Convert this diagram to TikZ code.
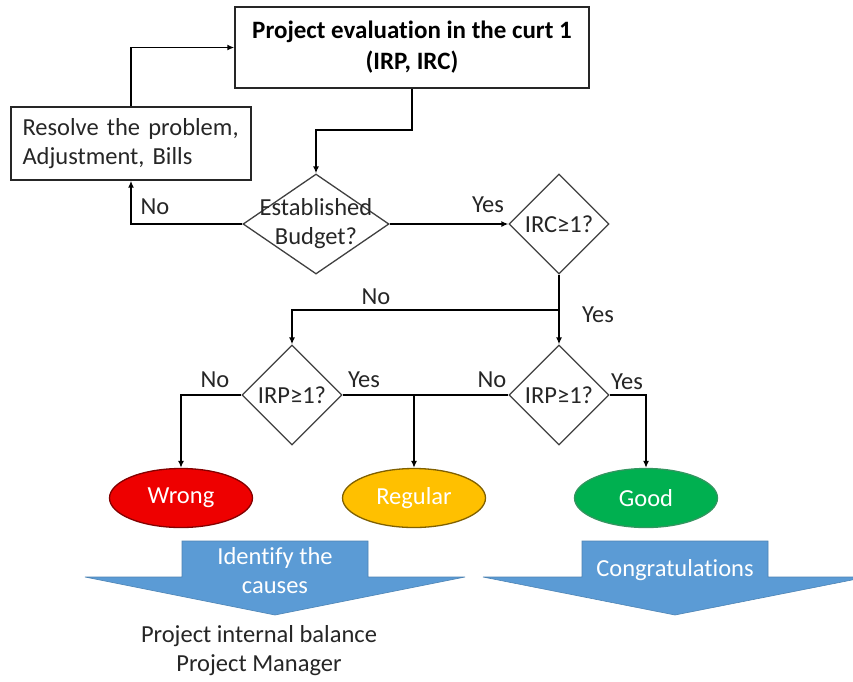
\documentclass[tikz,border=0pt]{standalone}
\usepackage{fontspec}
\setmainfont{Carlito}[Ligatures=NoCommon]
\usetikzlibrary{shapes.geometric,arrows.meta}
\definecolor{arrowblue}{HTML}{5B9BD5}
\definecolor{wrongred}{HTML}{EE0000}
\definecolor{regyellow}{HTML}{FFC000}
\definecolor{goodgreen}{HTML}{00B050}
\begin{document}
\begin{tikzpicture}[x=1pt,y=-1pt,
  fs/.style={font=\fontsize{24.5}{29}\selectfont},
  every node/.style={fs},
  box/.style={draw=black!85, line width=1.4pt, rectangle, inner sep=0pt},
  dec/.style={draw=black!75, line width=1.3pt, diamond, inner sep=0pt, minimum width=100pt, minimum height=100pt},
  dectext/.style={inner sep=0pt, align=center, text=black!85},
  oval/.style={ellipse, line width=1.3pt, minimum width=143pt, minimum height=59pt, inner sep=0pt, text=white},
  conn/.style={line width=1.8pt, -{Latex[length=7pt,width=6pt]}},
  plain/.style={line width=1.8pt},
  lbl/.style={inner sep=0pt, text=black!85},
  bluearrow/.style={fill=arrowblue, draw=arrowblue!85!black, line width=0.6pt},
  arrowtext/.style={inner sep=0pt, align=center, text=white},
]
\clip (0,0) rectangle (853,681);
\fill[white] (0,0) rectangle (853,681);

% boxes
\node[box, minimum width=354pt, minimum height=81pt, align=center,
      font=\fontsize{25}{31}\selectfont\bfseries] (top) at (412,47.5)
  {Project evaluation in the curt 1\\(IRP, IRC)};
\node[box, minimum width=240pt, minimum height=73pt, text width=217pt, align=left, text=black!85] (res) at (131,143.5)
  {Resolve the problem,\\Adjustment, Bills};

% decisions
\node[dec, minimum width=146pt] (d1) at (316,224) {};
\node[dectext] (d1t) at (d1) {Established\\Budget?};
\node[dec] (irc) at (559,224) {};
\node[dectext] (irct) at (irc) {IRC≥1?};
\node[dec] (irp1) at (292,395) {};
\node[dectext] (irp1t) at (irp1) {IRP≥1?};
\node[dec] (irp2) at (559,395) {};
\node[dectext] (irp2t) at (irp2) {IRP≥1?};

% outcomes
\node[oval, fill=wrongred, draw=wrongred!55!black] (wrong) at (181,498) {Wrong};
\node[oval, fill=regyellow, draw=regyellow!50!black] (regular) at (414,498) {Regular};
\node[oval, fill=goodgreen, draw=goodgreen!70!black!80] (good) at (646,498) {Good};

% connectors
\coordinate (j1) at (0,130);
\coordinate (j2) at (0,310);
\draw[conn] (top.south) -- (top.south |- j1) -| (d1.north);
\draw[conn] (d1.west) -| (res.south);
\draw[conn] (res.north) |- (top.west);
\draw[conn] (d1.east) -- (irc.west);
\draw[conn] (irc.south) -- (irp2.north);
\draw[conn] (irc.south |- j2) -| (irp1.north);
\draw[conn] (irp1.west) -| (wrong.north);
\draw[plain] (irp1.east) -- (irp2.west);
\draw[conn] (regular.north |- irp1.east) -- (regular.north);
\draw[conn] (irp2.east) -| (good.north);

% labels
\node[lbl] (l1) at (155,207) {No};
\node[lbl] (l2) at (488,205) {Yes};
\node[lbl] (l3) at (376,297) {No};
\node[lbl] (l4) at (598,315) {Yes};
\node[lbl] (l5) at (215,380) {No};
\node[lbl] (l6) at (364,380) {Yes};
\node[lbl] (l7) at (492,380) {No};
\node[lbl] (l8) at (627,382) {Yes};

% blue arrows
\path[bluearrow] (182,541) -- (368,541) -- (368,577) -- (465,577) -- (275,615) -- (85,577) -- (182,577) -- cycle;
\node[arrowtext] (a1t) at (275,571) {Identify the\\causes};
\path[bluearrow] (582,541) -- (768,541) -- (768,577) -- (867,577) -- (675,615) -- (483,577) -- (582,577) -- cycle;
\node[arrowtext] (a2t) at (675,570) {Congratulations};

% bottom text
\node[inner sep=0pt, align=center, text=black!85] (bottom) at (259,651) {Project internal balance\\Project Manager};
\end{tikzpicture}
\end{document}
